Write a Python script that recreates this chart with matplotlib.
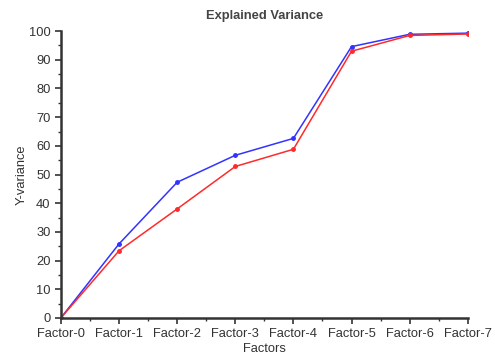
import numpy as np
import matplotlib.pyplot as plt
from matplotlib.ticker import MultipleLocator

plt.rcParams["font.family"] = ["Liberation Sans", "DejaVu Sans"]

factors = ["Factor-0", "Factor-1", "Factor-2", "Factor-3",
           "Factor-4", "Factor-5", "Factor-6", "Factor-7"]
blue_vals = [0, 25.8, 47.3, 56.7, 62.6, 94.6, 98.9, 99.3]
red_vals = [0, 23.4, 38.0, 52.8, 58.8, 93.0, 98.5, 99.0]

x = np.arange(len(factors))

fig = plt.figure(figsize=(4.95, 3.58), dpi=100)
ax = fig.add_axes([0.123, 0.112, 0.822, 0.801])

ax.plot(x, blue_vals, color="#3333ff", lw=1.1, marker="o", ms=2.5)
ax.plot(x, red_vals, color="#ff2a2a", lw=1.1, marker="o", ms=2.5)

ax.set_xlim(0, 7)
ax.set_ylim(0, 100)
ax.set_xticks(x)
ax.set_xticklabels(factors)
ax.xaxis.set_minor_locator(MultipleLocator(0.5))
ax.yaxis.set_major_locator(MultipleLocator(10))
ax.yaxis.set_minor_locator(MultipleLocator(5))

for s in ["top", "right"]:
    ax.spines[s].set_visible(False)
for s in ["left", "bottom"]:
    ax.spines[s].set_color("#333333")
    ax.spines[s].set_linewidth(1.8)

ax.tick_params(which="major", length=4, width=1.2, colors="#333333",
               labelsize=9.3, labelcolor="#333333")
ax.tick_params(which="minor", length=2.5, width=1, colors="#333333")

ax.set_title("Explained Variance", fontsize=9.3, fontweight="bold",
             color="#444444", pad=9)
ax.set_xlabel("Factors", fontsize=9.3, color="#333333", labelpad=2)
ax.set_ylabel("Y-variance", fontsize=9.3, color="#333333", labelpad=1)

fig.savefig("out.png", dpi=100)
